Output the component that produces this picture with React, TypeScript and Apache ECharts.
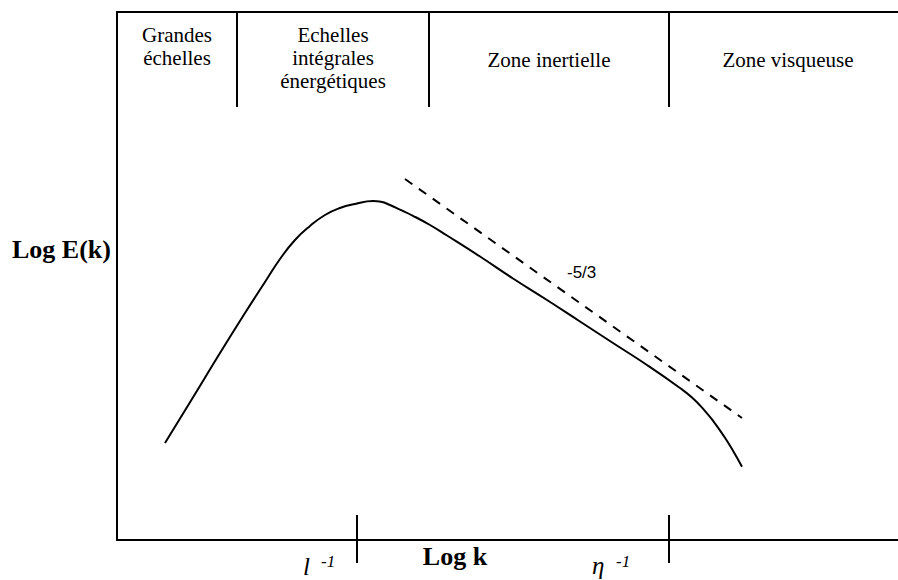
import React, { useEffect, useRef } from "react";
import * as echarts from "echarts";

// Spectrum curve (log k, log E) in arbitrary units
const spectrumK = [4.8, 7.5, 10.3, 12.8, 14.8, 16.3, 17.8, 19.3, 20.8, 22.3, 23.8, 25.6, 26.4, 27.3, 28.3, 29.6, 31.3, 33.0, 36.3, 39.6, 43.0, 46.3, 49.6, 53.0, 56.3, 57.5, 58.7, 59.7, 60.7, 61.6, 62.5];
const spectrumE = [9.7, 14.1, 18.7, 22.7, 25.8, 28.1, 30.0, 31.4, 32.5, 33.2, 33.6, 33.9, 33.82, 33.5, 33.04, 32.42, 31.5, 30.45, 28.35, 26.15, 24.0, 21.85, 19.7, 17.5, 15.2, 14.24, 13.02, 11.79, 10.37, 8.93, 7.33];
// -5/3 reference slope (dashed)
const slopeK = [28.8, 62.5];
const slopeE = [36.1, 12.2];
// zone boundaries at the top and scale marks on the k axis
const zoneBoundaries = [12.0, 31.2, 55.2];
const zoneTop = 52.8;
const zoneBottom = 43.3;
const scaleMarks = [24.0, 55.2];
const xMax = 78.1;
const yMax = 52.8;

const serif = "Liberation Serif";

export default function App() {
  const ref = useRef<HTMLDivElement>(null);
  useEffect(() => {
    document.body.style.margin = "0";
    const chart = echarts.init(ref.current!, null, { renderer: "svg" });
    const lineStyleAxis = { color: "#000", width: 2 };
    const txt = (x: number, y: number, text: string, size: number, extra: any = {}) => ({
      type: "text",
      x,
      y,
      style: {
        text,
        fontFamily: serif,
        fontSize: size,
        fill: "#000",
        textAlign: "center",
        textVerticalAlign: "middle",
        ...extra,
      },
    });
    chart.setOption({
      animation: false,
      backgroundColor: "#fff",
      grid: { left: 117, right: 0, top: 12, bottom: 40 },
      xAxis: [
        {
          type: "value", min: 0, max: xMax, position: "bottom",
          axisLine: { show: true, onZero: false, lineStyle: lineStyleAxis },
          axisTick: { show: true, inside: true, length: 25, customValues: scaleMarks, lineStyle: lineStyleAxis },
          axisLabel: { show: false }, splitLine: { show: false },
        },
        {
          type: "value", min: 0, max: xMax, position: "bottom", offset: 0,
          axisLine: { show: false, onZero: false },
          axisTick: { show: true, inside: false, length: 23, customValues: scaleMarks, lineStyle: lineStyleAxis },
          axisLabel: { show: false }, splitLine: { show: false },
        },
        {
          type: "value", min: 0, max: xMax, position: "top",
          axisLine: { show: true, onZero: false, lineStyle: lineStyleAxis },
          axisTick: { show: false }, axisLabel: { show: false }, splitLine: { show: false },
        },
      ],
      yAxis: {
        type: "value", min: 0, max: yMax,
        axisLine: { show: true, onZero: false, lineStyle: lineStyleAxis },
        axisTick: { show: false }, axisLabel: { show: false }, splitLine: { show: false },
      },
      series: [
        {
          type: "line",
          data: spectrumK.map((k, i) => [k, spectrumE[i]]),
          smooth: 0.5,
          showSymbol: false,
          lineStyle: { color: "#000", width: 2 },
          markLine: {
            silent: true,
            symbol: ["none", "none"],
            label: { show: false },
            lineStyle: { color: "#000", width: 2, type: "solid" },
            data: zoneBoundaries.map((b) => [{ coord: [b, zoneTop] }, { coord: [b, zoneBottom] }]),
          },
        },
        {
          type: "line",
          data: slopeK.map((k, i) => [k, slopeE[i]]),
          showSymbol: false,
          lineStyle: { color: "#000", width: 2, type: [9, 8] },
        },
      ],
      graphic: [
        txt(177, 23, "Grandes\néchelles", 21, { lineHeight: 23, textVerticalAlign: "top" }),
        txt(333, 23, "Echelles\nintégrales\nénergétiques", 21, { lineHeight: 23, textVerticalAlign: "top" }),
        txt(549, 60, "Zone inertielle", 21),
        txt(788, 60, "Zone visqueuse", 21),
        txt(12, 249, "Log E(k)", 26, { fontWeight: "bold", textAlign: "left" }),
        txt(455, 556, "Log k", 26, { fontWeight: "bold" }),
        txt(567, 272, "-5/3", 17, { fontFamily: "Liberation Sans Narrow, Liberation Sans, sans-serif", textAlign: "left" }),
        txt(303, 566, "l", 25, { fontStyle: "italic", textAlign: "left" }),
        txt(321, 561, "-1", 17, { fontStyle: "italic", textAlign: "left" }),
        txt(592, 565, "η", 25, { fontStyle: "italic", textAlign: "left" }),
        txt(616, 561, "-1", 17, { fontStyle: "italic", textAlign: "left" }),
      ],
    });
    return () => chart.dispose();
  }, []);
  return <div ref={ref} style={{ position: "absolute", left: 0, top: 0, width: 898, height: 580 }} />;
}
